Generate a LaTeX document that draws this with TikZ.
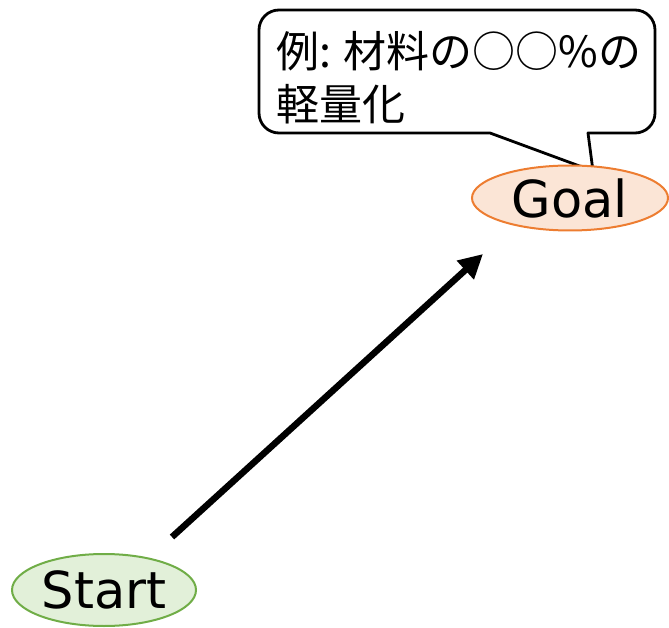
\documentclass[tikz,border=0pt]{standalone}
\usepackage{fontspec}
\setmainfont{DejaVu Sans}
\newfontfamily\jp{Noto Sans CJK JP}
\usetikzlibrary{arrows.meta,shapes.geometric}
\definecolor{goalfill}{HTML}{FBE5D6}
\definecolor{goaldraw}{HTML}{ED7D31}
\definecolor{startfill}{HTML}{E2F0D9}
\definecolor{startdraw}{HTML}{70AD47}
\begin{document}
\begin{tikzpicture}[x=1pt,y=1pt,
  oval/.style={ellipse, inner sep=0pt, line width=2pt, font=\fontsize{51}{60}\selectfont},
  goalnode/.style={oval, draw=goaldraw, fill=goalfill, minimum width=196pt, minimum height=65pt},
  startnode/.style={oval, draw=startdraw, fill=startfill, minimum width=184pt, minimum height=72pt},
  jptext/.style={font=\jp\fontsize{43}{52}\selectfont, inner sep=0pt, anchor=base west},
  bubble/.style={draw=black, line width=2.8pt, fill=white, line join=round},
  bigarrow/.style={line width=6.5pt, -{Triangle[length=24pt,width=24pt]}}]
\useasboundingbox (0,0) rectangle (669,627);
% callout bubble
\draw[bubble] (490,494) -- (279,494)
  arc[start angle=270, end angle=180, radius=20] -- (259,597)
  arc[start angle=180, end angle=90, radius=20] -- (635,617)
  arc[start angle=90, end angle=0, radius=20] -- (655,514)
  arc[start angle=0, end angle=-90, radius=20] -- (588,494) -- (593,456) -- cycle;
\node[jptext] (note1) at (276,559) {例: 材料の○○\%の};
\node[jptext] (note2) at (276,506) {軽量化};
% nodes
\node[goalnode] (goal) at (570,429) {Goal};
\node[startnode] (start) at (104,37) {Start};
% arrow
\coordinate (a1) at (172,90);
\coordinate (a2) at (483,373);
\draw[bigarrow] (a1) -- (a2);
\end{tikzpicture}
\end{document}
